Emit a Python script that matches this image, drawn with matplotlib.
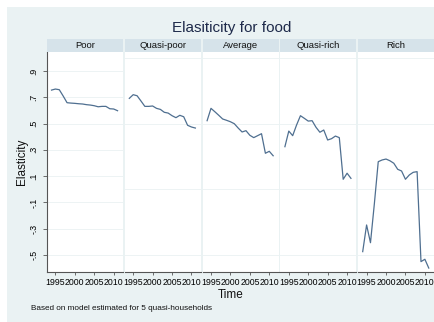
import matplotlib.pyplot as plt
from matplotlib.patches import Rectangle

years = list(range(1994, 2012))

groups = ["Poor", "Quasi-poor", "Average", "Quasi-rich", "Rich"]

poor = [0.755, 0.763, 0.758, 0.710, 0.659, 0.656, 0.654, 0.651, 0.649,
        0.644, 0.641, 0.636, 0.628, 0.631, 0.631, 0.613, 0.611, 0.598]
quasi_poor = [0.692, 0.720, 0.712, 0.672, 0.631, 0.631, 0.634, 0.616, 0.608,
              0.586, 0.580, 0.560, 0.545, 0.563, 0.552, 0.487, 0.474, 0.466]
average = [0.522, 0.616, 0.590, 0.563, 0.535, 0.525, 0.514, 0.499, 0.466,
           0.436, 0.446, 0.411, 0.393, 0.408, 0.423, 0.274, 0.289, 0.255]
quasi_rich = [0.324, 0.443, 0.408, 0.489, 0.560, 0.540, 0.519, 0.522, 0.472,
              0.434, 0.451, 0.375, 0.385, 0.405, 0.393, 0.076, 0.122, 0.083]
rich = [-0.475, -0.272, -0.407, -0.110, 0.210, 0.223, 0.230, 0.217, 0.198,
        0.152, 0.139, 0.076, 0.109, 0.129, 0.134, -0.551, -0.533, -0.600]

series = [poor, quasi_poor, average, quasi_rich, rich]

y_ticks = [0.9, 0.7, 0.5, 0.3, 0.1, -0.1, -0.3, -0.5]
y_tick_labels = [".9", ".7", ".5", ".3", ".1", "-.1", "-.3", "-.5"]
x_ticks = [1995, 2000, 2005, 2010]

plt.rcParams["font.family"] = ["Liberation Sans", "DejaVu Sans"]

W, H = 434, 322
BG = "#eaf2f3"
STRIP = "#d6e3ea"
LINE = "#4f6f90"
AXIS = "#555555"
GRID = "#edf3f4"

fig = plt.figure(figsize=(W / 100, H / 100), dpi=100)
fig.patch.set_facecolor("white")
fig.patches.append(Rectangle((7 / W, 0), 1, (H - 7) / H, transform=fig.transFigure,
                             facecolor=BG, edgecolor="none", zorder=-10))


def fx(px):
    return px / W


def fy(py):
    return (H - py) / H


left0, step, width = 47, 77.8, 76
top, bottom = 52, 272
strip_top = 39

for k, (name, values) in enumerate(zip(groups, series)):
    left = left0 + k * step
    ax = fig.add_axes([fx(left), fy(bottom), fx(width), fy(top) - fy(bottom)])
    ax.set_facecolor("white")
    ax.plot(years, values, color=LINE, lw=0.9)
    ax.set_xlim(1992.84, 2012.4)
    ax.set_ylim(-0.63, 1.045)

    for side in ["top", "right", "left"]:
        ax.spines[side].set_visible(False)
    ax.spines["bottom"].set_color(AXIS)
    ax.spines["bottom"].set_linewidth(0.8)

    ax.set_xticks(x_ticks)
    ax.set_xticklabels([str(t) for t in x_ticks], fontsize=6.3)
    ax.tick_params(axis="x", length=2.5, width=0.6, color=AXIS, pad=2)

    if k == 0:
        ax.spines["left"].set_visible(True)
        ax.spines["left"].set_color(AXIS)
        ax.spines["left"].set_linewidth(0.8)
        ax.set_yticks(y_ticks)
        ax.set_yticklabels(y_tick_labels, fontsize=6.3, rotation=90, va="center")
        ax.tick_params(axis="y", length=3, width=0.6, color=AXIS, pad=3)
    else:
        ax.set_yticks([-0.5, 0, 0.5, 1.0])
        ax.tick_params(axis="y", left=False, labelleft=False)
    ax.grid(axis="y", color=GRID, lw=0.7)
    ax.set_axisbelow(True)

    # panel header strip
    fig.patches.append(Rectangle((fx(left), fy(top)), fx(width), fy(strip_top) - fy(top),
                                 transform=fig.transFigure, facecolor=STRIP,
                                 edgecolor="none"))
    fig.text(fx(left + width / 2), fy((top + strip_top) / 2), name,
             ha="center", va="center", fontsize=6.8, color="#111111")

fig.text(fx(232), fy(28), "Elasiticity for food", ha="center", va="center",
         fontsize=11, color="#1e2a4a")
fig.text(fx(22), fy(162), "Elasticity", ha="center", va="center", rotation=90,
         fontsize=8.5, color="#111111")
fig.text(fx(231), fy(295), "Time", ha="center", va="center",
         fontsize=8.5, color="#111111")
fig.text(fx(31), fy(308), "Based on model estimated for 5 quasi-households",
         ha="left", va="center", fontsize=5.9, color="#111111")

fig.savefig("out.png", dpi=100, facecolor=fig.get_facecolor())
